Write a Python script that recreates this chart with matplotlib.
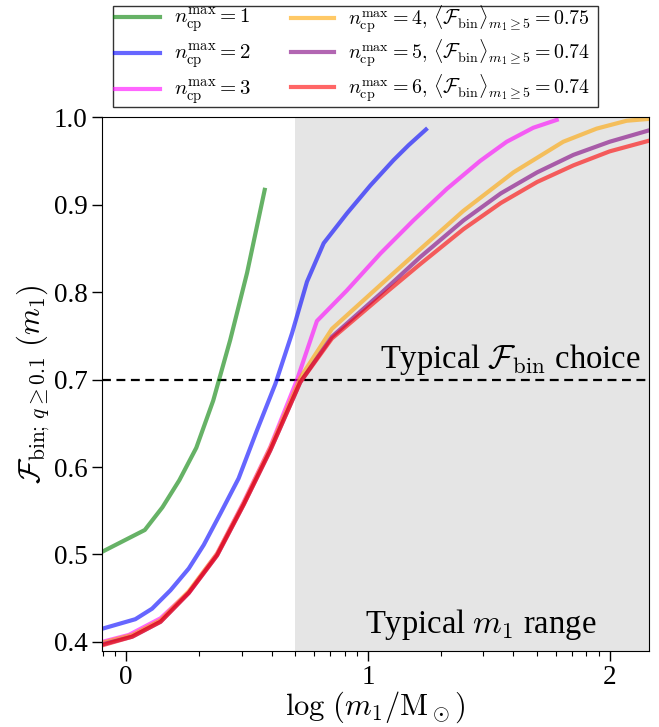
import numpy as np
import matplotlib
matplotlib.use("Agg")
import matplotlib.pyplot as plt
from matplotlib.patches import Rectangle
from matplotlib.ticker import FixedLocator


# ============================================================
# Data (x = log10(m1 / Msun))
# ============================================================

x_n1 = [-0.1, 0.077, 0.15, 0.22, 0.29, 0.36, 0.43, 0.5, 0.573]
f_n1 = [0.503, 0.528, 0.554, 0.585, 0.622, 0.676, 0.745, 0.822, 0.917]

x_n2 = [-0.1, 0.038, 0.107, 0.183, 0.259, 0.321, 0.390, 0.465, 0.541, 0.617,
        0.686, 0.748, 0.817, 0.913, 1.01, 1.106, 1.168, 1.24]
f_n2 = [0.415, 0.426, 0.438, 0.459, 0.484, 0.511, 0.547, 0.587, 0.642, 0.695,
        0.753, 0.812, 0.856, 0.890, 0.922, 0.951, 0.968, 0.986]

x_n3 = [-0.1, 0.011, 0.142, 0.259, 0.376, 0.486, 0.596, 0.707, 0.789, 0.913,
        1.051, 1.188, 1.326, 1.464, 1.574, 1.684, 1.781]
f_n3 = [0.400, 0.408, 0.427, 0.457, 0.501, 0.560, 0.623, 0.700, 0.767, 0.802,
        0.844, 0.882, 0.918, 0.950, 0.972, 0.988, 0.997]

x_n4 = [-0.1, 0.025, 0.142, 0.259, 0.376, 0.486, 0.596, 0.72, 0.851, 1.051,
        1.216, 1.395, 1.602, 1.808, 1.946, 2.07, 2.2]
f_n4 = [0.399, 0.408, 0.425, 0.458, 0.501, 0.559, 0.622, 0.702, 0.758, 0.808,
        0.849, 0.893, 0.937, 0.972, 0.987, 0.996, 0.999]

x_n5 = [-0.1, 0.025, 0.142, 0.259, 0.376, 0.486, 0.596, 0.72, 0.851, 1.051,
        1.216, 1.395, 1.55, 1.70, 1.85, 2.0, 2.2]
f_n5 = [0.397, 0.406, 0.423, 0.456, 0.499, 0.557, 0.619, 0.697, 0.749, 0.798,
        0.840, 0.882, 0.913, 0.937, 0.957, 0.972, 0.988]

x_n6 = [-0.1, 0.025, 0.142, 0.259, 0.376, 0.486, 0.596, 0.72, 0.851, 1.051,
        1.216, 1.395, 1.55, 1.70, 1.85, 2.0, 2.2]
f_n6 = [0.396, 0.406, 0.423, 0.456, 0.499, 0.557, 0.619, 0.697, 0.747, 0.794,
        0.832, 0.872, 0.902, 0.926, 0.945, 0.961, 0.976]

labels = [
    r"$n_{\rm cp}^{\rm max}=1$",
    r"$n_{\rm cp}^{\rm max}=2$",
    r"$n_{\rm cp}^{\rm max}=3$",
    r"$n_{\rm cp}^{\rm max}=4,\,\langle\mathcal{F}_{\rm bin}\rangle_{m_1\geq5}=0.75$",
    r"$n_{\rm cp}^{\rm max}=5,\,\langle\mathcal{F}_{\rm bin}\rangle_{m_1\geq5}=0.74$",
    r"$n_{\rm cp}^{\rm max}=6,\,\langle\mathcal{F}_{\rm bin}\rangle_{m_1\geq5}=0.74$",
]
colors = ["green", "blue", "magenta", "orange", "purple", "red"]

typical_fbin = 0.7
typical_m1_min = 5.0

W, H = 659, 727


def fig_xy(px, py):
    # pixel position (from top-left) -> figure fraction
    return px / W, 1 - py / H


def main():
    plt.rcParams["font.family"] = "serif"
    plt.rcParams["font.serif"] = ["Liberation Serif", "DejaVu Serif"]
    plt.rcParams["mathtext.fontset"] = "cm"

    fig = plt.figure(figsize=(W / 100, H / 100), dpi=100)
    ax = fig.add_axes([0.1548, 0.105, 0.8305, 0.7337])

    # --------------------------------------------------------
    # Shaded mass range and reference line
    # --------------------------------------------------------

    ax.axvspan(np.log10(typical_m1_min), 3.0, color="gray", alpha=0.2, lw=0)
    ax.axhline(typical_fbin, color="black", ls="--", lw=1.6, dashes=(4, 2.5))

    series = [(x_n1, f_n1), (x_n2, f_n2), (x_n3, f_n3),
              (x_n4, f_n4), (x_n5, f_n5), (x_n6, f_n6)]
    handles = []
    for (xs, fs), c, lab in zip(series, colors, labels):
        line, = ax.plot(xs, fs, color=c, alpha=0.6, lw=3, label=lab)
        handles.append(line)

    ax.text(2.13, 0.703, r"Typical $\mathcal{F}_{\rm bin}$ choice",
            ha="right", va="bottom", fontsize=23.5)
    ax.text(1.465, 0.41, r"Typical $m_1$ range",
            ha="center", va="baseline", fontsize=23.5)

    # --------------------------------------------------------
    # Axes
    # --------------------------------------------------------

    ax.set_xlim(-0.1, 2.164)
    ax.set_ylim(0.39, 1.0)
    ax.set_xticks([0, 1, 2])
    ax.set_xticklabels(["0", "1", "2"])
    ax.set_yticks([0.4, 0.5, 0.6, 0.7, 0.8, 0.9, 1.0])
    ax.set_yticklabels(["0.4", "0.5", "0.6", "0.7", "0.8", "0.9", "1.0"])

    minor = [np.log10(k * 10.0 ** n) for n in range(-1, 3) for k in range(2, 10)]
    ax.xaxis.set_minor_locator(FixedLocator(minor))

    ax.tick_params(which="major", length=7, width=1, labelsize=19.5)
    ax.tick_params(which="minor", length=3.5, width=0.8)
    ax.tick_params(axis="x", pad=3)

    ax.set_xlabel(r"$\log\,(m_1/{\rm M}_\odot)$", fontsize=22, labelpad=0)
    ax.set_ylabel(r"$\mathcal{F}_{{\rm bin};\,q\geq0.1}\ (m_1)$", fontsize=22, labelpad=2)

    # --------------------------------------------------------
    # Legend: two columns drawn separately so the rows line up,
    # the long labels have taller text boxes than the short ones
    # --------------------------------------------------------

    common = dict(
        loc="upper left",
        borderaxespad=0,
        borderpad=0,
        handlelength=2.16,
        handletextpad=0.67,
        frameon=False,
    )
    fig.legend(handles[:3], labels[:3], bbox_to_anchor=fig_xy(115, 7),
               labelspacing=0.37, fontsize=15, **common)
    fig.legend(handles[3:], labels[3:], bbox_to_anchor=fig_xy(291, 3),
               labelspacing=0.12, fontsize=14.4, **common)

    x0, y0 = fig_xy(113, 107)
    frame = Rectangle((x0, y0), 485 / W, 101 / H, transform=fig.transFigure,
                      fill=False, edgecolor="#333333", lw=1.0)
    fig.add_artist(frame)

    fig.savefig("out.png", dpi=100)


if __name__ == "__main__":
    main()
